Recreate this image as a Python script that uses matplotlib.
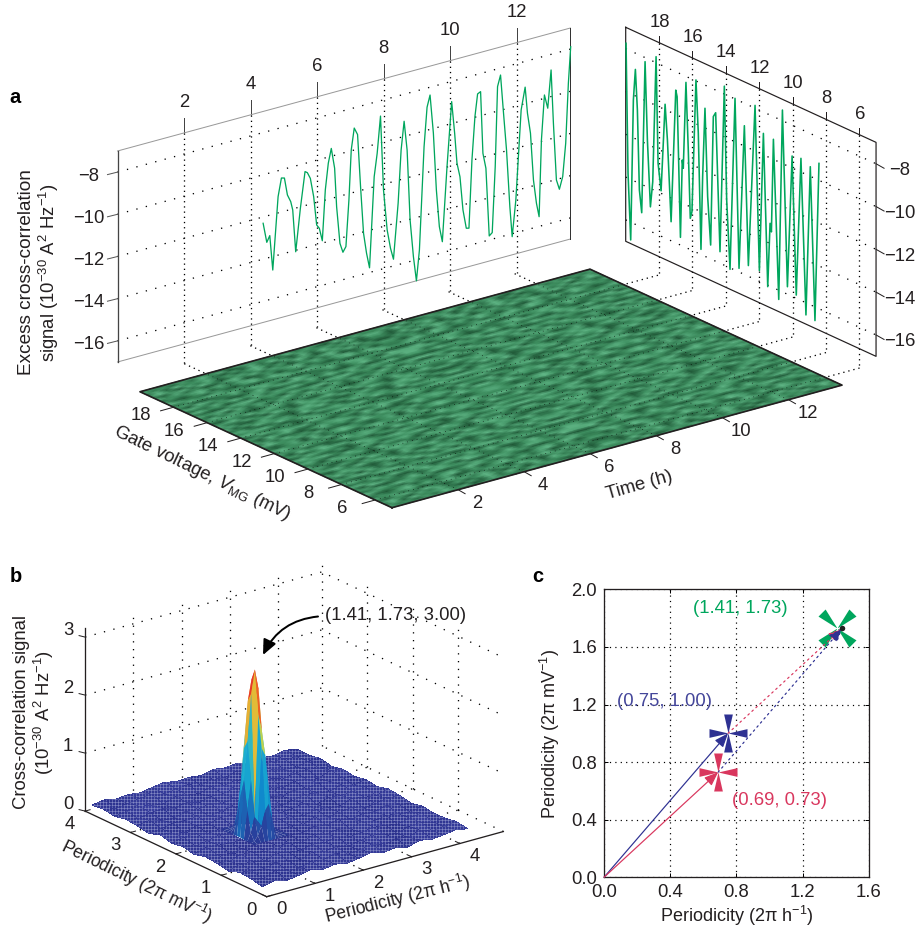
import numpy as np
import matplotlib
matplotlib.use('Agg')
import matplotlib.pyplot as plt
from matplotlib.collections import PolyCollection
from matplotlib.colors import LinearSegmentedColormap
from matplotlib.path import Path
from matplotlib.transforms import Affine2D

plt.rcParams['font.family'] = ['Liberation Sans', 'DejaVu Sans']
plt.rcParams['mathtext.fontset'] = 'custom'
plt.rcParams['mathtext.rm'] = 'Liberation Sans'
plt.rcParams['mathtext.it'] = 'Liberation Sans:italic'
plt.rcParams['mathtext.default'] = 'regular'
plt.rcParams['hatch.linewidth'] = 0.6

# panel a, signal against time (left wall)
time_h = [4.38, 4.49, 4.58, 4.67, 4.83, 4.93, 5.02, 5.11, 5.21, 5.27, 5.36, 5.50, 5.64, 5.71, 5.80, 5.90, 5.99,
          6.07, 6.16, 6.25, 6.34, 6.43, 6.53, 6.59, 6.69, 6.78, 6.87, 6.96, 7.03, 7.12, 7.22, 7.31, 7.40, 7.49,
          7.58, 7.72, 7.81, 7.91, 8.00, 8.11, 8.21, 8.30, 8.44, 8.53, 8.62, 8.71, 8.80, 8.90, 8.99, 9.08, 9.22,
          9.31, 9.40, 9.50, 9.59, 9.68, 9.77, 9.91, 10.05, 10.14, 10.21, 10.30, 10.39, 10.49, 10.57, 10.66, 10.75,
          10.83, 10.92, 10.99, 11.08, 11.18, 11.27, 11.36, 11.43, 11.52, 11.61, 11.70, 11.80, 11.87, 11.98, 12.14,
          12.26, 12.33, 12.42, 12.51, 12.60, 12.68, 12.75, 12.84, 12.94, 13.04, 13.11, 13.20, 13.29, 13.39, 13.48,
          13.56, 13.63]
signal_t = [-12.30, -13.25, -12.97, -14.64, -11.23, -10.39, -10.43, -11.27, -11.63, -12.05, -14.07, -12.07, -10.39,
            -10.47, -10.78, -11.69, -13.07, -13.26, -13.89, -11.52, -10.29, -9.63, -10.61, -12.46, -14.24, -14.70,
            -14.47, -12.30, -9.96, -8.96, -9.31, -11.82, -14.07, -15.05, -15.78, -11.52, -10.45, -8.73, -12.27,
            -14.21, -15.12, -15.68, -13.09, -10.60, -9.28, -10.68, -14.04, -15.82, -17.00, -15.58, -10.74, -8.91,
            -8.37, -10.22, -12.95, -14.73, -15.48, -11.99, -8.96, -10.50, -11.95, -12.63, -14.24, -15.15, -15.18,
            -11.99, -9.97, -8.93, -8.86, -11.81, -12.56, -15.81, -15.69, -12.60, -8.84, -8.33, -10.18, -11.96,
            -14.69, -16.14, -14.45, -10.25, -9.22, -10.49, -11.47, -13.73, -14.87, -15.54, -11.93, -9.84, -10.51,
            -8.74, -11.29, -14.02, -14.50, -13.94, -12.40, -9.59, -7.89]

# panel a, signal against gate voltage (right wall)
gate_mv = [19.98, 19.86, 19.70, 19.54, 19.42, 19.30, 19.18, 19.04, 18.84, 18.70, 18.52, 18.38, 18.18, 18.06, 17.88,
           17.64, 17.50, 17.28, 17.00, 16.92, 16.72, 16.61, 16.55, 16.39, 16.25, 16.13, 16.03, 15.79, 15.65, 15.49,
           15.39, 15.25, 15.09, 14.91, 14.75, 14.61, 14.35, 14.09, 13.95, 13.75, 13.45, 13.21, 12.89, 12.65, 12.25,
           11.99, 11.75, 11.49, 11.35, 11.27, 11.15, 10.83, 10.61, 10.31, 10.03, 9.78, 9.50, 9.20, 8.94, 8.66, 8.42]
signal_v = [-7.74, -13.77, -16.83, -10.23, -8.76, -10.61, -14.31, -15.32, -8.19, -11.80, -14.86, -13.64, -7.72,
            -12.66, -13.88, -9.75, -11.37, -15.11, -8.86, -9.14, -15.64, -11.99, -12.35, -8.28, -11.39, -14.54,
            -14.19, -7.95, -10.39, -15.76, -12.33, -9.08, -13.15, -15.35, -9.29, -9.06, -15.46, -7.63, -12.90,
            -16.07, -7.97, -15.83, -9.05, -15.50, -7.87, -15.50, -9.00, -16.07, -13.06, -13.43, -9.06, -16.43,
            -7.50, -15.65, -9.44, -15.85, -9.36, -16.57, -9.55, -16.64, -9.21]

# panel a, floor shading levels estimated by eye, rows run along time
floor_rows = [
    "462738150493627514830625", "735162948027351846209174", "281945730618294073561928",
    "594073826159407281936405", "316829504738162950472813", "847250169382740516938260",
    "153694827015369482701536", "620481537926048153792604", "974316205849731620584973",
    "238597461023859746102385", "561024938756102493875610", "409732615840973261584097",
    "785261049377852610493778", "132849576013284957601328", "694503182769450318276945",
    "320178946532017894653201", "857936214085793621408579", "416082753941608275394160",
    "293751608429375160842937", "748620395174862039517486", "105394862710539486271053",
    "569217430856921743085692", "832740961583274096158327", "471058326947105832694710",
    "916483207591648320759164", "240865719324086571932408", "683129540768312954076831",
    "357940286135794028613579", "794216038579421603857942", "028653197402865319740286",
    "561397824056139782405613", "409582136740958213674095", "736120495873612049587361",
    "182946073518294607351829", "695473812069547381206954", "314708259631470825963147",
]

# panel b, background of the surface in hundredths, one row per y value
surf_x = [0.10, 0.35, 0.60, 0.85, 1.10, 1.35, 1.60, 1.85, 2.10, 2.35, 2.60, 2.85, 3.10, 3.35, 3.60, 3.85, 4.10, 4.35]
surf_y = [0.20, 0.45, 0.70, 0.95, 1.20, 1.45, 1.70, 1.95, 2.20, 2.45, 2.70, 2.95, 3.20, 3.45, 3.70, 3.95]
surf_z = [
    [8, 12, 7, 10, 14, 9, 12, 8, 11, 15, 9, 12, 7, 13, 9, 11, 14, 10],
    [12, 6, 14, 9, 7, 13, 10, 15, 8, 10, 14, 7, 12, 9, 15, 8, 11, 13],
    [14, 10, 8, 13, 11, 6, 14, 9, 12, 7, 11, 15, 10, 6, 12, 14, 8, 10],
    [7, 13, 11, 6, 15, 10, 8, 13, 10, 14, 8, 10, 13, 11, 7, 12, 15, 9],
    [11, 8, 15, 12, 8, 12, 11, 7, 14, 9, 12, 7, 15, 9, 13, 10, 7, 12],
    [13, 10, 7, 9, 10, 10, 10, 10, 8, 13, 10, 14, 8, 12, 10, 15, 11, 8],
    [8, 14, 12, 10, 10, 10, 10, 10, 11, 7, 15, 9, 11, 14, 7, 9, 13, 12],
    [12, 7, 10, 15, 10, 10, 10, 10, 13, 12, 8, 13, 10, 7, 15, 11, 8, 14],
    [9, 13, 14, 8, 10, 10, 10, 10, 15, 9, 11, 14, 6, 13, 10, 12, 14, 9],
    [14, 11, 6, 12, 9, 15, 13, 7, 10, 14, 7, 10, 15, 11, 8, 14, 7, 12],
    [7, 9, 13, 11, 14, 8, 11, 14, 9, 12, 13, 8, 12, 9, 14, 10, 12, 8],
    [11, 15, 8, 7, 12, 10, 15, 9, 13, 7, 10, 15, 7, 13, 11, 6, 15, 11],
    [13, 8, 12, 14, 9, 13, 7, 12, 11, 15, 9, 12, 14, 8, 12, 13, 9, 7],
    [9, 12, 15, 10, 7, 14, 11, 8, 14, 10, 13, 6, 11, 15, 9, 7, 12, 11],
    [12, 7, 10, 13, 15, 9, 12, 14, 7, 12, 8, 14, 9, 10, 14, 12, 10, 8],
    [10, 13, 9, 11, 8, 12, 15, 10, 12, 9, 14, 11, 13, 8, 11, 9, 13, 8],
]

# panel b, the peak at (1.41, 1.73) on a finer mesh
peak_x = [1.10, 1.175, 1.25, 1.325, 1.40, 1.475, 1.55, 1.625, 1.70, 1.775, 1.85]
peak_y = [1.45, 1.525, 1.60, 1.675, 1.75, 1.825, 1.90, 1.975, 2.05, 2.125, 2.20]
peak_z = [
    [.10, .10, .10, .10, .10, .10, .10, .10, .10, .10, .10],
    [.10, .12, .20, .35, .60, .70, .40, .15, .10, .10, .10],
    [.10, .25, .50, .40, 1.65, 1.5, .90, .25, .11, .10, .10],
    [.11, .60, 1.1, .45, 2.2, 1.9, 1.1, .35, .12, .10, .10],
    [.12, 1.1, 1.75, 2.55, 2.95, 2.6, 1.4, .45, .13, .10, .10],
    [.12, .80, 1.6, 2.4, 2.75, 2.4, 1.2, .35, .12, .10, .10],
    [.11, .40, 1.0, 1.7, 2.0, 1.7, .80, .25, .11, .10, .10],
    [.10, .18, .45, .80, 1.0, .80, .40, .15, .10, .10, .10],
    [.10, .12, .18, .30, .40, .30, .18, .12, .10, .10, .10],
    [.10, .10, .11, .13, .15, .13, .11, .10, .10, .10, .10],
    [.10, .10, .10, .10, .10, .10, .10, .10, .10, .10, .10],
]

# panel c
blue_pt = (0.75, 1.00)
pink_pt = (0.69, 0.73)
green_pt = (1.41, 1.73)
black_pt = (1.44, 1.73)

GREEN = '#00a65d'
BLUE = '#2e3192'
PINK = '#d9375e'
INK = '#231f20'
DOTS = (0, (1, 6.5))  # slanted grid lines
VDOTS = (0, (1, 3))   # upright grid lines have closer dots
FS = 18.5

fig = plt.figure(figsize=(920 / 72, 929 / 72), dpi=72)
canvas = fig.add_axes([0, 0, 1, 1])
canvas.set_xlim(0, 920)
canvas.set_ylim(929, 0)
canvas.axis('off')
canvas.set_autoscale_on(False)


def label(x, y, s, size=FS, rot=0, color=INK, **kw):
    canvas.text(x, y, s, fontsize=size, rotation=rot, color=color, ha='center', va='center',
                rotation_mode='anchor', **kw)


# three planes of panel a: (time, signal), (gate, signal) and (time, gate) to picture pixels
left_tr = Affine2D.from_values(33.25, -9.03, 0, -21.1, 117.5, 151 - 7 * 21.1)
right_tr = Affine2D.from_values(-16.69, -7.67, 0, -21.4, 625.7 + 20 * 16.69, 27.3 + 20 * 7.67 - 7 * 21.4)
floor_tr = Affine2D.from_values(33.04, -9.0, -16.8, -7.73, 392 + 5 * 16.8, 507.7 + 5 * 7.73)

T_MAX, V_MIN, V_MAX, S_TOP, S_BOT = 13.62, 5, 20, -7, -17
t_ticks = [2, 4, 6, 8, 10, 12]
v_ticks = [6, 8, 10, 12, 14, 16, 18]
s_ticks = [-8, -10, -12, -14, -16]

left_data = left_tr + canvas.transData
right_data = right_tr + canvas.transData
floor_data = floor_tr + canvas.transData

# left wall
for s in s_ticks:
    canvas.plot([0, T_MAX], [s, s], transform=left_data, color='k', lw=1.3, ls=DOTS, zorder=1)
    x, y = left_tr.transform((0, s))
    canvas.plot([x - 10, x], [y + 2.5, y], color='#555555', lw=1)
    label(x - 29, y + 4, '\u2212%d' % -s)
for t in t_ticks:
    canvas.plot([t, t], [S_TOP, -17.93], transform=left_data, color='k', lw=1.3, ls=VDOTS, zorder=1)
    canvas.plot([t, t], [21.3, V_MAX], transform=floor_data, color='k', lw=1.3, ls=VDOTS, zorder=1)
    x, y = left_tr.transform((t, S_TOP))
    canvas.plot([x, x], [y - 15, y], color='#444444', lw=1)
    label(x, y - 30, str(t))
canvas.plot([0, T_MAX], [S_TOP, S_TOP], transform=left_data, color='#999999', lw=1)
canvas.plot([0, T_MAX], [S_BOT, S_BOT], transform=left_data, color='#999999', lw=1)
canvas.plot([0, 0], [S_TOP, S_BOT], transform=left_data, color='#444444', lw=1.3)
canvas.plot([T_MAX, T_MAX], [S_TOP, S_BOT], transform=left_data, color='#333333', lw=1)
canvas.plot(time_h, signal_t, transform=left_data, color=GREEN, lw=1.3, zorder=3)

# right wall
for s in s_ticks:
    canvas.plot([V_MAX, V_MIN], [s, s], transform=right_data, color='k', lw=1.3, ls=DOTS, zorder=1)
    x, y = right_tr.transform((V_MIN, s))
    canvas.plot([x, x + 8], [y, y + 4.5], color=INK, lw=1)
    label(x + 24, y + 7, '\u2212%d' % -s)
for v in v_ticks:
    canvas.plot([v, v], [S_TOP, -17.88], transform=right_data, color='k', lw=1.3, ls=VDOTS, zorder=1)
    canvas.plot([14.66, T_MAX], [v, v], transform=floor_data, color='k', lw=1.3, ls=VDOTS, zorder=1)
    x, y = right_tr.transform((v, S_TOP))
    canvas.plot([x, x], [y - 7, y], color=INK, lw=1)
    label(x + 0.5, y - 20.6, str(v))
wall_v = [V_MAX, V_MIN, V_MIN, V_MAX, V_MAX]
wall_s = [S_TOP, S_TOP, S_BOT, S_BOT, S_TOP]
canvas.plot(wall_v, wall_s, transform=right_data, color=INK, lw=1.2)
canvas.plot(gate_mv, signal_v, transform=right_data, color=GREEN, lw=1.6, zorder=3)

# floor, the table is mirrored to fill the plane at a finer grain
floor_cmap = LinearSegmentedColormap.from_list('floor', ['#1f5636', '#3c8d5e', '#62b888'])
levels = np.array([[int(c) for c in row] for row in floor_rows])
levels = np.block([[levels, levels[:, ::-1]], [levels[::-1], levels[::-1, ::-1]]])
grid_t = np.linspace(0, T_MAX, levels.shape[1])
grid_v = np.linspace(V_MIN, V_MAX, levels.shape[0])
canvas.pcolormesh(grid_t, grid_v, levels, shading='gouraud', cmap=floor_cmap, transform=floor_data, zorder=4)
for t in t_ticks:
    canvas.plot([t, t], [V_MIN, V_MAX], transform=floor_data, color='k', lw=0.7, ls=(0, (1, 6)), zorder=5)
    x, y = floor_tr.transform((t, V_MIN))
    canvas.plot([x, x + 7], [y, y + 4], color=INK, lw=1)
    label(x + 19, y + 14, str(t))
for v in v_ticks:
    canvas.plot([0, T_MAX], [v, v], transform=floor_data, color='k', lw=0.7, ls=(0, (1, 6)), zorder=5)
    x, y = floor_tr.transform((0, v))
    canvas.plot([x - 13, x], [y + 3.6, y], color=INK, lw=1)
    label(x - 33, y + 8.5, str(v))
canvas.plot([0, T_MAX, T_MAX, 0, 0], [V_MIN, V_MIN, V_MAX, V_MAX, V_MIN], transform=floor_data,
            color=INK, lw=1.7, zorder=6)

label(27, 272, 'Excess cross-correlation', rot=90, size=19)
label(49, 273, 'signal (10$^{-30}$ A$^{2}$ Hz$^{-1}$)', rot=90)
label(202, 473, r'Gate voltage, $\mathit{V}_{MG}$ (mV)', rot=-26)
label(639, 485, 'Time (h)', rot=16)


# panel b
def proj(x, y, z=0.0):
    return 266.7 + 48.3 * x - 45.4 * y, 896.7 - 13.3 * x - 21.4 * y - 58.0 * z


X_MAX, Y_MAX, Z_MAX = 4.9, 4.0, 3.15


def line3(xs, ys, zs, **kw):
    px, py = proj(np.array(xs, float), np.array(ys, float), np.array(zs, float))
    canvas.plot(px, py, **kw)


for z in [1, 2, 3]:
    line3([0, X_MAX, X_MAX], [Y_MAX, Y_MAX, 0], [z, z, z], color='k', lw=1.3, ls=DOTS, zorder=1)
for x in [1, 2, 3, 4, X_MAX]:
    line3([x, x], [Y_MAX, Y_MAX], [0, Z_MAX], color='k', lw=1.3, ls=(0, (1, 5)), zorder=1)
    line3([x, x], [0, Y_MAX], [0, 0], color='k', lw=1.3, ls=DOTS, zorder=1)
for y in [1, 2, 3]:
    line3([X_MAX, X_MAX], [y, y], [0, Z_MAX], color='k', lw=1.3, ls=(0, (1, 5)), zorder=1)
    line3([0, X_MAX], [y, y], [0, 0], color='k', lw=1.3, ls=DOTS, zorder=1)

line3([0, 0], [Y_MAX, Y_MAX], [0, Z_MAX], color=INK, lw=1.3)
line3([0, 0], [0, Y_MAX], [0, 0], color=INK, lw=1.3)
line3([0, X_MAX], [0, 0], [0, 0], color=INK, lw=1.3)
for z in [0, 1, 2, 3]:
    px, py = proj(0, Y_MAX, z)
    canvas.plot([px - 6, px], [py - 1.5, py], color=INK, lw=1)
    label(px - 17, py - 7, str(z))
for y in [0, 1, 2, 3, 4]:
    px, py = proj(0, y)
    canvas.plot([px, px + 5], [py, py - 1.4], color=INK, lw=1)
    label(px - 15.5, py + 13.5, str(y))
for x in [0, 1, 2, 3, 4]:
    px, py = proj(x, 0)
    canvas.plot([px, px - 4.5], [py, py - 2.1], color=INK, lw=1)
    label(px + 15, py + 13, str(x))

peak_cmap = LinearSegmentedColormap.from_list('peak', [
    (0.00, '#2b3590'), (0.10, '#28409c'), (0.30, '#0e8ecf'), (0.55, '#1fb5d0'),
    (0.66, '#a9cf5a'), (0.74, '#d8d843'), (0.87, '#f58220'), (1.00, '#e8392a')])
base_cmap = LinearSegmentedColormap.from_list('base', ['#242a84', '#3c42a2'])


def quads(xs, ys, zs):
    """Picture polygons of a z table, far ones first, with their mean height."""
    out = []
    for j in range(len(ys) - 1):
        for i in range(len(xs) - 1):
            cx = [xs[i], xs[i + 1], xs[i + 1], xs[i]]
            cy = [ys[j], ys[j], ys[j + 1], ys[j + 1]]
            cz = [zs[j][i], zs[j][i + 1], zs[j + 1][i + 1], zs[j + 1][i]]
            px, py = proj(np.array(cx), np.array(cy), np.array(cz))
            out.append((np.mean(cx) + np.mean(cy), np.mean(cx), np.mean(cy), np.mean(cz), np.column_stack([px, py])))
    out.sort(key=lambda q: -q[0])
    return out


bg = quads(surf_x, surf_y, np.array(surf_z) / 100.0)
bg = [q for q in bg if not (peak_x[0] < q[1] < peak_x[-1] and peak_y[0] < q[2] < peak_y[-1])]
peak = quads(peak_x, peak_y, peak_z)
depth_peak = green_pt[0] + green_pt[1]
for part, z in [([q for q in bg if q[0] >= depth_peak], 7), ([q for q in bg if q[0] < depth_peak], 9)]:
    shade = base_cmap((np.array([q[3] for q in part]) - 0.07) / 0.07)
    canvas.add_collection(PolyCollection([q[4] for q in part], facecolors=shade, edgecolors='#8288c4',
                                          linewidths=0, hatch='++++', antialiaseds=False, zorder=z))
canvas.add_collection(PolyCollection([q[4] for q in peak],
                                     facecolors=peak_cmap(np.clip(np.array([q[3] for q in peak]) / 2.6, 0, 1)),
                                     edgecolors='none', linewidths=0, zorder=8))

canvas.annotate('', xy=(263, 655), xytext=(318, 616.5),
                arrowprops=dict(arrowstyle='-|>,head_length=0.9,head_width=0.4', color='k', lw=2,
                                connectionstyle='arc3,rad=0.28', shrinkA=0, shrinkB=0, mutation_scale=14), zorder=10)
canvas.text(325, 615, '(%.2f, %.2f, 3.00)' % green_pt, fontsize=FS, color=INK, ha='left', va='center', zorder=10)

label(22, 712, 'Cross-correlation signal', rot=90)
label(44, 712, '(10$^{-30}$ A$^{2}$ Hz$^{-1}$)', rot=90)
label(137, 882, 'Periodicity (2\u03c0 mV$^{-1}$)', size=17.5, rot=-26)
label(398, 899, 'Periodicity (2\u03c0 h$^{-1}$)', size=17.5, rot=14)

# panel c
ax = fig.add_axes([604 / 920, 1 - 877.3 / 929, 264.7 / 920, 288 / 929])
ax.set_xlim(0, 1.6)
ax.set_ylim(0, 2.0)
ax.set_xticks([0.0, 0.4, 0.8, 1.2, 1.6])
ax.set_yticks([0.0, 0.4, 0.8, 1.2, 1.6, 2.0])
ax.set_xticklabels(['0.0', '0.4', '0.8', '1.2', '1.6'])
ax.set_yticklabels(['0.0', '0.4', '0.8', '1.2', '1.6', '2.0'])
ax.tick_params(direction='in', length=4, width=1, top=True, right=True, labelsize=FS, labelcolor=INK, pad=7)
ax.grid(True, color='k', lw=1.2, ls=(0, (1, 3.5)))
ax.set_axisbelow(True)
for sp in ax.spines.values():
    sp.set_linewidth(1.3)
    sp.set_color(INK)
ax.set_xlabel('Periodicity (2\u03c0 h$^{-1}$)', fontsize=18, color=INK, labelpad=3)
ax.set_ylabel('Periodicity (2\u03c0 mV$^{-1}$)', fontsize=18, color=INK, labelpad=9)


def vec(start, end, color, dotted=False):
    ax.annotate('', xy=end, xytext=start, zorder=7,
                arrowprops=dict(arrowstyle='-|>,head_length=0.9,head_width=0.35', color=color, lw=1.2,
                                ls=(0, (1.5, 3)) if dotted else '-', shrinkA=0, shrinkB=0, mutation_scale=13))


vec((0, 0), blue_pt, BLUE)
vec((0, 0), pink_pt, PINK)
vec(blue_pt, black_pt, PINK, dotted=True)
vec(pink_pt, black_pt, BLUE, dotted=True)

arm = 0.23
verts, codes = [], []
for dx, dy in [(0, 1), (1, 0), (0, -1), (-1, 0)]:
    verts += [(0, 0), (dx - arm * dy, dy - arm * dx), (dx + arm * dy, dy + arm * dx), (0, 0)]
    codes += [Path.MOVETO, Path.LINETO, Path.LINETO, Path.CLOSEPOLY]
star = Path(verts, codes)
star_x = star.transformed(Affine2D().rotate_deg(45))
ax.plot(*blue_pt, marker=star, ms=38, color=BLUE, mew=0, zorder=5)
ax.plot(*pink_pt, marker=star, ms=38, color=PINK, mew=0, zorder=5)
ax.plot(*green_pt, marker=star_x, ms=38, color=GREEN, mew=0, zorder=5)
ax.plot(*black_pt, marker='o', ms=5.5, color=INK, mew=0, zorder=8)

ax.text(0.822, 1.87, '(%.2f, %.2f)' % green_pt, color=GREEN, fontsize=FS, ha='center', va='center')
ax.text(0.363, 1.223, '(%.2f, %.2f)' % blue_pt, color='#44469a', fontsize=FS, ha='center', va='center')
ax.text(1.058, 0.532, '(%.2f, %.2f)' % pink_pt, color=PINK, fontsize=FS, ha='center', va='center')

for s, x, y in [('a', 15, 97), ('b', 16, 576), ('c', 538, 576)]:
    canvas.text(x, y, s, fontsize=20, fontweight='bold', color='k', ha='center', va='center')

fig.savefig('out.png', dpi=72)
